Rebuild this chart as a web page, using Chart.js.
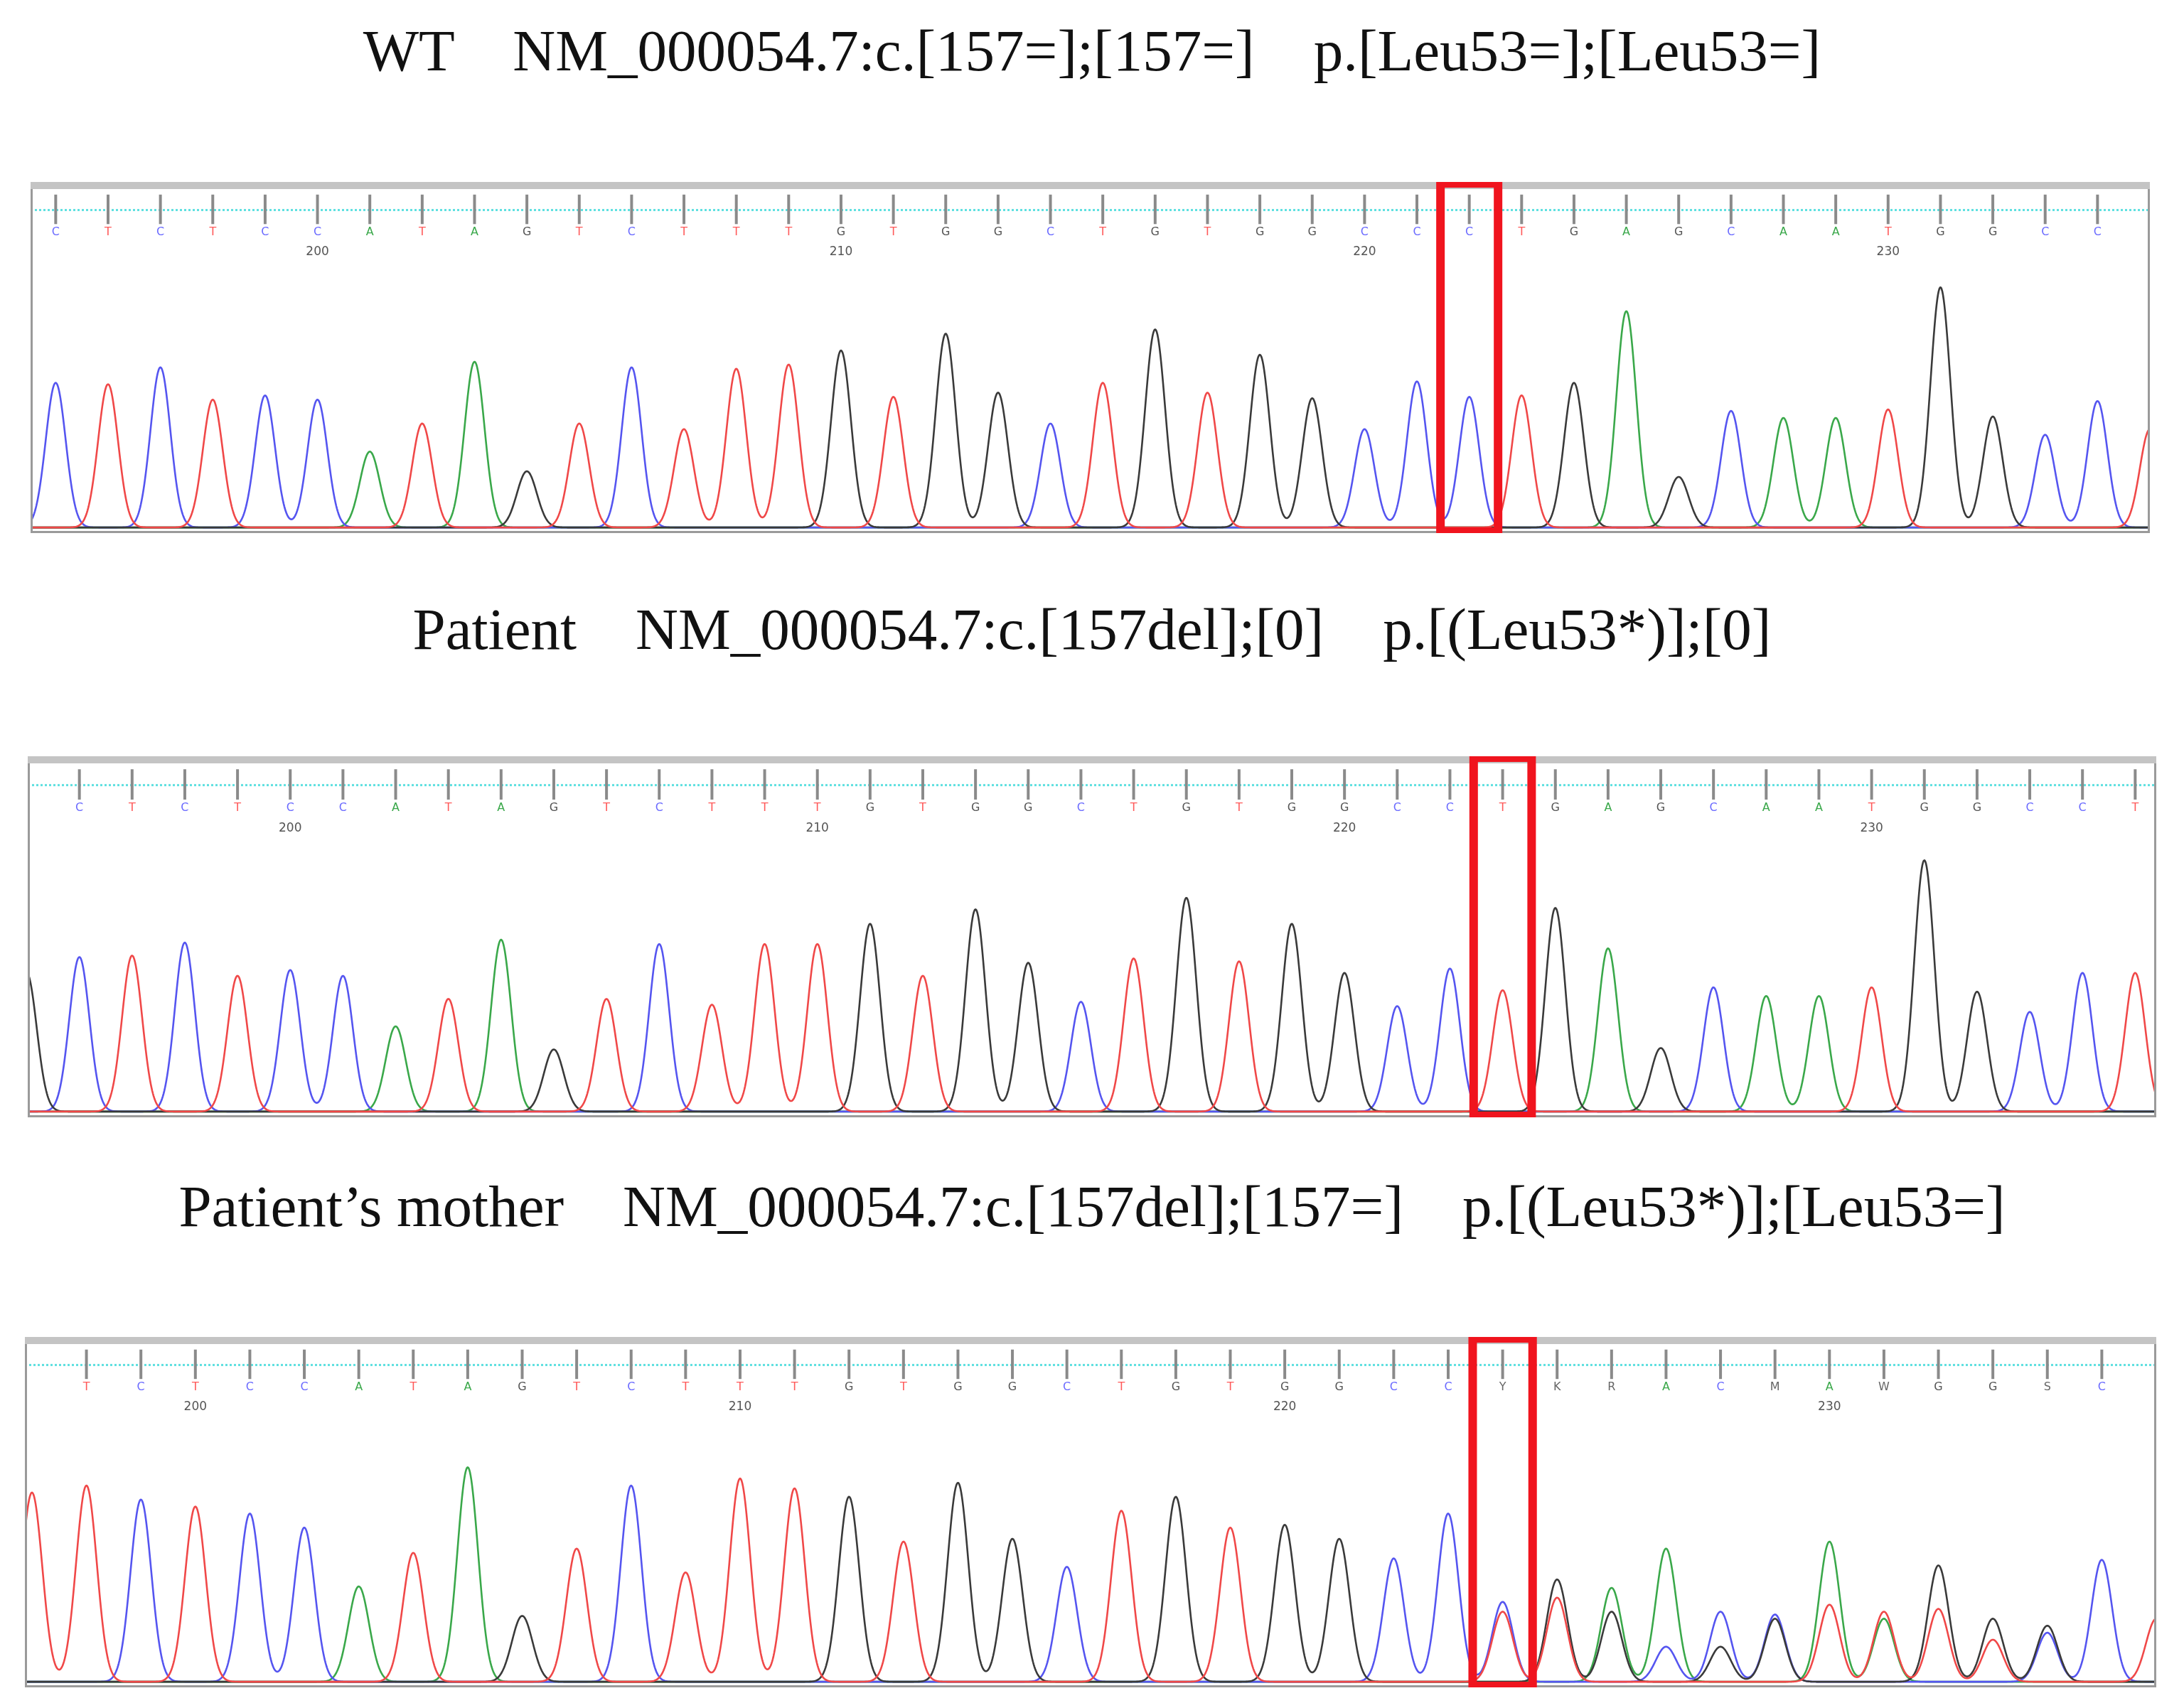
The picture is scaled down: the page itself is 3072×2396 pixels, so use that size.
<!DOCTYPE html>
<html>
<head>
<meta charset="utf-8">
<script src="https://cdn.jsdelivr.net/npm/chart.js@4.4.0/dist/chart.umd.min.js"></script>
<style>
  body { margin: 0; background: #fff; width: 3072px; height: 2396px; position: relative; overflow: hidden; }
  .title { position: absolute; left: 0; width: 3072px; text-align: center; white-space: pre;
           font-family: "Liberation Serif", "DejaVu Serif", serif; font-size: 83px; color: #111; line-height: 1; }
  .panel { position: absolute; }
</style>
</head>
<body>
<div class="title" style="top:30px">WT    NM_000054.7:c.[157=];[157=]    p.[Leu53=];[Leu53=]</div>
<div class="title" style="top:844px">Patient    NM_000054.7:c.[157del];[0]    p.[(Leu53*)];[0]</div>
<div class="title" style="top:1656px">Patient’s mother    NM_000054.7:c.[157del];[157=]    p.[(Leu53*)];[Leu53=]</div>

<div class="panel" style="left:43px;top:256px;width:2981px;height:494px"><canvas id="p1"></canvas></div>
<div class="panel" style="left:39px;top:1064px;width:2994px;height:508px"><canvas id="p2"></canvas></div>
<div class="panel" style="left:35px;top:1881px;width:2998px;height:493px"><canvas id="p3"></canvas></div>

<script>
// ---- data: one peak per base position (index), heights ----
const p1Bases   = 'CTCTCCATAGTCTTTGTGGCTGTGGCCCTGAGCAATGGCCT';
const p1Calls   = 'CTCTCCATAGTCTTTGTGGCTGTGGCCCTGAGCAATGGCC ';
const p1Heights = [103,102,114,91,94,91,54,74,118,40,74,114,70,113,116,126,93,138,96,74,
                   103,141,96,123,92,70,104,93,94,103,154,36,83,78,78,84,171,79,66,90,70];
const p1TickAt  = [5, 15, 25, 35];
const p1Range   = [-0.48, 40.0];
const p1Box     = 27;

const p2Bases   = 'GCTCTCCATAGTCTTTGTGGCTGTGGCCTGAGCAATGGCCT';
const p2Calls   = ' CTCTCCATAGTCTTTGTGGCTGTGGCCTGAGCAATGGCCT';
const p2Heights = [96,107,108,117,94,98,94,59,78,119,43,78,116,74,116,116,130,94,140,103,
                   76,106,148,104,130,96,73,99,84,141,113,44,86,80,80,86,174,83,69,96,96];
const p2TickAt  = [5, 15, 25, 35];
const p2Range   = [0.02, 40.4];
const p2Box     = 28;

const p3Bases   = 'TTCTCCATAGTCTTTGTGGCTGTGGCCCGAACCATGGGCT';
const p3Calls   = ' TCTCCATAGTCTTTGTGGCTGTGGCCYKRACMAWGGSC ';
const p3Heights = [135,140,130,125,120,110,68,92,153,47,95,140,78,145,138,132,100,142,102,82,
                   122,132,110,112,102,88,120,57,73,67,95,50,48,100,50,83,45,40,87,45];
// secondary peaks of the heterozygous region
const p3MinorAt      = [27,28,29,30,31,32,33,34,35,36,37];
const p3MinorBases   = 'TTGCGGTATTC';
const p3MinorHeights = [50,60,50,25,25,45,55,45,52,30,35];
const p3TickAt  = [3, 13, 23, 33];
const p3Range   = [-0.13, 39];
const p3Box     = 27;

const tickLabels = ['200', '210', '220', '230'];

const traceColor = { A: '#3aa84a', C: '#5555f0', G: '#3a3a3a', T: '#f04848' };
const callColor  = { A: '#3aa84a', C: '#6a6aff', G: '#555', T: '#ff5a5a' };

function buildDatasets(bases, heights, minorAt, minorBases, minorHeights) {
  const pts = { A: [], C: [], G: [], T: [] };
  bases.split('').forEach((b, i) => pts[b].push({ x: i, y: heights[i] }));
  (minorAt || []).forEach((i, k) => pts[minorBases[k]].push({ x: i, y: minorHeights[k] }));
  return ['A', 'C', 'G', 'T'].map(b => ({
    label: b, data: pts[b], borderColor: traceColor[b], pointRadius: 0, showLine: false
  }));
}

// draws the trace curves, the header strip, frame and highlight box
const tracePlugin = {
  id: 'trace',
  afterDatasetsDraw(chart, args, opts) {
    const { ctx, chartArea: a, scales: { x, y } } = chart;
    const sigma = 0.19;
    ctx.save();
    ctx.beginPath(); ctx.rect(a.left, a.top, a.right - a.left, a.bottom - a.top); ctx.clip();
    chart.data.datasets.forEach(ds => {
      ctx.beginPath();
      ctx.strokeStyle = ds.borderColor; ctx.lineWidth = 2.6; ctx.lineJoin = 'round';
      for (let px = a.left; px <= a.right; px += 1) {
        const v = x.getValueForPixel(px);
        let s = 0;
        ds.data.forEach(p => { const d = (v - p.x) / sigma; if (Math.abs(d) < 6) s += p.y * Math.exp(-0.5 * d * d); });
        const py = y.getPixelForValue(s);
        px === a.left ? ctx.moveTo(px, py) : ctx.lineTo(px, py);
      }
      ctx.stroke();
    });
    // header: tick marks, cyan dotted line, base calls, position numbers
    const yLine = y.getPixelForValue(226);
    ctx.strokeStyle = '#5fe0e0'; ctx.lineWidth = 3; ctx.setLineDash([3, 3]);
    ctx.beginPath(); ctx.moveTo(a.left, yLine); ctx.lineTo(a.right, yLine); ctx.stroke();
    ctx.setLineDash([]);
    ctx.textAlign = 'center'; ctx.textBaseline = 'middle';
    opts.calls.split('').forEach((c, i) => {
      if (c === ' ') return;
      const px = x.getPixelForValue(i);
      ctx.fillStyle = '#8a8a8a';
      ctx.fillRect(px - 2, y.getPixelForValue(237), 4, y.getPixelForValue(216) - y.getPixelForValue(237));
      ctx.fillStyle = callColor[c] || '#666';
      ctx.font = '16px "DejaVu Sans", sans-serif';
      ctx.fillText(c, px, y.getPixelForValue(210));
    });
    ctx.fillStyle = '#555'; ctx.font = '17px "DejaVu Sans", sans-serif';
    opts.tickAt.forEach((i, k) => ctx.fillText(tickLabels[k], x.getPixelForValue(i), y.getPixelForValue(196)));
    ctx.restore();
    // frame
    ctx.save();
    ctx.strokeStyle = '#9a9a9a'; ctx.lineWidth = 3;
    ctx.strokeRect(a.left + 1.5, a.top + 1.5, a.right - a.left - 3, a.bottom - a.top - 3);
    ctx.fillStyle = '#c4c4c4'; ctx.fillRect(a.left, a.top, a.right - a.left, 10);
    // red highlight box
    const bx0 = x.getPixelForValue(opts.box - 0.55), bx1 = x.getPixelForValue(opts.box + 0.55);
    ctx.strokeStyle = '#f0141e'; ctx.lineWidth = 12;
    ctx.strokeRect(bx0, a.top + 2, bx1 - bx0, a.bottom - a.top - 4);
    ctx.restore();
  }
};

function makePanel(id, datasets, range, calls, tickAt, box) {
  new Chart(document.getElementById(id), {
    type: 'scatter',
    data: { datasets },
    options: {
      responsive: true, maintainAspectRatio: false, animation: false,
      layout: { padding: 0 },
      plugins: { legend: { display: false }, tooltip: { enabled: false },
                 trace: { calls, tickAt, box } },
      scales: {
        x: { type: 'linear', min: range[0], max: range[1], display: false },
        y: { min: -4, max: 246, display: false }
      }
    },
    plugins: [tracePlugin]
  });
}

makePanel('p1', buildDatasets(p1Bases, p1Heights), p1Range, p1Calls, p1TickAt, p1Box);
makePanel('p2', buildDatasets(p2Bases, p2Heights), p2Range, p2Calls, p2TickAt, p2Box);
makePanel('p3', buildDatasets(p3Bases, p3Heights, p3MinorAt, p3MinorBases, p3MinorHeights),
          p3Range, p3Calls, p3TickAt, p3Box);
</script>
</body>
</html>
